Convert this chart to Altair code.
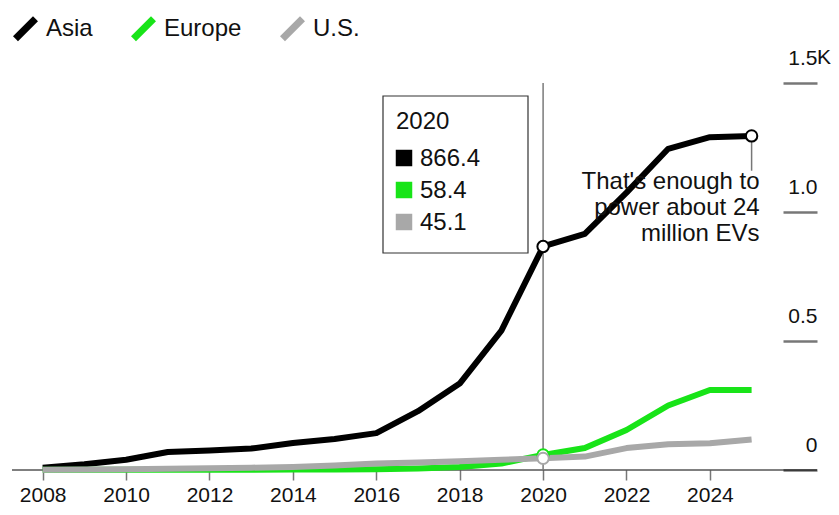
import altair as alt
import pandas as pd

# ---- data (GWh) ----
years = list(range(2008, 2026))
asia = [9, 22, 40, 70, 76, 83, 105, 120, 143, 228, 335, 540, 866.4, 915, 1075, 1245, 1290, 1295]
europe = [0.5, 0.5, 0.5, 0.6, 0.8, 1, 1.5, 2, 3, 6, 12, 25, 58.4, 85, 155, 250, 310, 310]
us = [1, 2, 3, 5, 7, 9, 12, 17, 25, 29, 34, 40, 45.1, 52, 85, 100, 104, 118]
series = ["Asia", "Europe", "U.S."]
colors = ["#000000", "#18e418", "#a8a8a8"]
x_ticks = list(range(2008, 2026, 2))
y_ticks = [0, 500, 1000, 1500]
highlight_year = 2020
end_year = 2025
annotation = ["That's enough to", "power about 24", "million EVs"]
annotation_leader_end = 1160

FONT = "Liberation Sans"
W, H = 771, 387
TICK = 34

rows = []
for name, vals in zip(series, [asia, europe, us]):
    for yr, v in zip(years, vals):
        rows.append({"series": name, "year": yr, "value": v})
df = pd.DataFrame(rows)

xscale = alt.Scale(domain=[2007.264, 2025.753], nice=False, zero=False)
yscale = alt.Scale(domain=[0, 1500], nice=False)

base = alt.Chart(df)

lines = base.mark_line(strokeWidth=6, strokeJoin="round", strokeCap="butt").encode(
    x=alt.X("year:Q", scale=xscale,
            axis=alt.Axis(values=x_ticks, format="d", domain=False, grid=False, tickSize=10,
                          tickColor="#777777", tickWidth=1.5, labelFontSize=21, labelPadding=4,
                          labelColor="#111111", labelFont=FONT, title=None)),
    y=alt.Y("value:Q", scale=yscale,
            axis=alt.Axis(orient="right", values=y_ticks, tickSize=TICK, tickColor="#777777",
                          tickWidth=2.5, domain=False, grid=False, labelAlign="right",
                          labelBaseline="bottom", labelOffset=-15, labelPadding=0,
                          labelFontSize=21, labelColor="#111111", labelFont=FONT,
                          labelExpr="datum.value == 0 ? '0' : format(datum.value / 1000, '.1f')",
                          title=None)),
    color=alt.Color("series:N", scale=alt.Scale(domain=series, range=colors),
                    legend=alt.Legend(orient="none", legendX=0, legendY=-68, direction="horizontal",
                                      title=None, symbolType="M-1,1L1,-1", symbolSize=400,
                                      symbolStrokeWidth=7, labelFontSize=24, labelFont=FONT,
                                      labelColor="#111111", columnPadding=26, labelOffset=7,
                                      padding=0)),
    detail="series:N",
)

# baseline
baseline = alt.Chart(pd.DataFrame({"value": [0]})).mark_rule(color="#000000", strokeWidth=1).encode(
    x=alt.value(0), x2=alt.value(W + TICK), y=alt.Y("value:Q", scale=yscale)
)

# highlight rule
hl_rule = base.transform_filter(
    (alt.datum.year == highlight_year) & (alt.datum.series == "Asia")
).mark_rule(color="#7a7a7a", strokeWidth=1.5).encode(
    x=alt.X("year:Q", scale=xscale), y=alt.value(0), y2=alt.value(H)
)

layers = [baseline, hl_rule, lines]

# leader line from the end point
leader = base.transform_filter(
    (alt.datum.year == end_year) & (alt.datum.series == "Asia")
).mark_rule(color="#777777", strokeWidth=1.5).encode(
    x=alt.X("year:Q", scale=xscale),
    y=alt.Y("value:Q", scale=yscale),
    y2=alt.datum(annotation_leader_end),
)
layers.append(leader)

# hover circles
for name, col in zip(series, colors):
    pts = base.transform_filter(
        (alt.datum.series == name)
        & ((alt.datum.year == highlight_year) | ((alt.datum.year == end_year) & (alt.datum.series == "Asia")))
    ).mark_point(shape="circle", filled=True, fill="white", stroke=col, strokeWidth=2,
                 size=130, opacity=1).encode(
        x=alt.X("year:Q", scale=xscale),
        y=alt.Y("value:Q", scale=yscale),
    )
    layers.append(pts)

# annotation
ann = alt.Chart(pd.DataFrame({"t": ["\n".join(annotation)], "year": [end_year]})).mark_text(
    align="right", baseline="alphabetic", lineBreak="\n", lineHeight=26, fontSize=24,
    font=FONT, color="#111111", dx=8
).encode(x=alt.X("year:Q", scale=xscale), y=alt.value(106), text="t:N")
layers.append(ann)

# K suffix for top tick
ksuf = alt.Chart(pd.DataFrame({"value": [y_ticks[-1]], "k": ["K"]})).mark_text(
    align="left", baseline="bottom", fontSize=21, font=FONT, color="#111111", dy=-15
).encode(x=alt.value(W + TICK), y=alt.Y("value:Q", scale=yscale), text="k:N")
layers.append(ksuf)

# tooltip box
box = alt.Chart(pd.DataFrame({"a": [0]})).mark_rect(
    fill="white", stroke="#333333", strokeWidth=1.2
).encode(x=alt.value(371), x2=alt.value(516), y=alt.value(13), y2=alt.value(170))
layers.append(box)

tt_title = base.transform_filter(
    (alt.datum.year == highlight_year) & (alt.datum.series == "Asia")
).mark_text(align="left", baseline="alphabetic", fontSize=24, font=FONT, color="#111111").encode(
    x=alt.value(384), y=alt.value(46), text=alt.Text("year:Q", format="d")
)
layers.append(tt_title)

for i, (name, col) in enumerate(zip(series, colors)):
    sel = base.transform_filter((alt.datum.year == highlight_year) & (alt.datum.series == name))
    sq = sel.mark_square(size=272, color=col, opacity=1).encode(
        x=alt.value(392), y=alt.value(75 + 32 * i)
    )
    tx = sel.mark_text(align="left", baseline="alphabetic", fontSize=24, font=FONT,
                       color="#111111").encode(
        x=alt.value(408), y=alt.value(83 + 32 * i), text=alt.Text("value:Q", format=".1f")
    )
    layers += [sq, tx]

chart = alt.layer(*layers).properties(
    width=W, height=H,
    padding={"left": 4, "top": 75, "right": 48, "bottom": 37},
    autosize=alt.AutoSizeParams(type="none"),
    background="white",
).configure(font=FONT).configure_view(stroke=None)

chart.save("out.html", embed_options={"renderer": "svg", "actions": False})
